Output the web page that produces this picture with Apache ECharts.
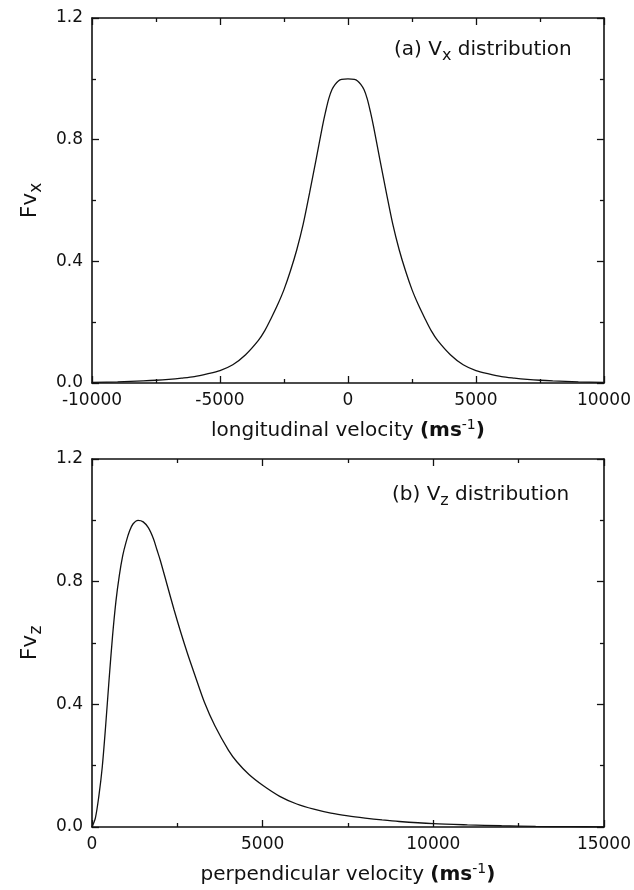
<!DOCTYPE html>
<html>
<head>
<meta charset="utf-8">
<script src="https://cdn.jsdelivr.net/npm/echarts@6/dist/echarts.min.js"></script>
<style>
html,body{margin:0;padding:0;background:#fff;}
#c{width:634px;height:890px;}
</style>
</head>
<body>
<div id="c"></div>
<script>
// Panel (a): longitudinal velocity distribution
var velX = [-10000,-9000,-8000,-7500,-7000,-6500,-6000,-5500,-5000,-4500,-4000,-3500,-3250,-3000,-2750,-2500,-2250,-2000,-1750,-1500,-1250,-1000,-875,-750,-625,-500,-375,-250,0,250,375,500,625,750,875,1000,1250,1500,1750,2000,2250,2500,2750,3000,3250,3500,4000,4500,5000,5500,6000,6500,7000,7500,8000,9000,10000];
var fvX = [0.002,0.004,0.007,0.009,0.012,0.016,0.021,0.030,0.041,0.060,0.093,0.140,0.172,0.213,0.257,0.307,0.368,0.438,0.522,0.625,0.733,0.843,0.892,0.935,0.965,0.982,0.993,0.998,1.0,0.998,0.993,0.982,0.965,0.935,0.892,0.843,0.733,0.625,0.522,0.438,0.368,0.307,0.257,0.213,0.172,0.140,0.093,0.060,0.041,0.030,0.021,0.016,0.012,0.009,0.007,0.004,0.002];

// Panel (b): perpendicular velocity distribution
var velZ = [0,100,200,300,400,500,600,700,800,900,1000,1100,1200,1350,1500,1650,1800,1900,2000,2200,2400,2600,2800,3000,3300,3600,4000,4250,4600,5000,5500,6000,6500,7000,7500,8000,8500,9000,10000,11000,12000,13000,14000,15000];
var fvZ = [0,0.03,0.10,0.195,0.33,0.48,0.62,0.735,0.82,0.885,0.93,0.965,0.988,1.0,0.995,0.976,0.94,0.905,0.87,0.79,0.71,0.635,0.565,0.50,0.405,0.33,0.25,0.212,0.171,0.136,0.100,0.075,0.058,0.045,0.036,0.029,0.023,0.018,0.011,0.007,0.004,0.002,0.001,0.0005];

var xTicksA = [-10000, 10000, 5000];
var xTicksB = [0, 15000, 5000];
var yTicks = [0, 1.2, 0.4];

var FONT = 'DejaVu Sans';
function pairs(xs, ys){ return xs.map(function(x,i){ return [x, ys[i]]; }); }

var nameRich = {
  n: {fontSize: 20, fontFamily: FONT, color: '#111'},
  b: {fontSize: 20, fontFamily: FONT, fontWeight: 'bold', color: '#111'},
  s: {fontSize: 14, fontFamily: FONT, color: '#111', padding: [0,0,12,0]}
};
var yRich = {
  n: {fontSize: 22, fontFamily: FONT, color: '#111'},
  s: {fontSize: 17, fontFamily: FONT, color: '#111', padding: [12,0,0,0]}
};

function xAx(grid, pos, t, name, showLabel){
  return {
    type: 'value', gridIndex: grid, position: pos,
    min: t[0], max: t[1], interval: t[2],
    axisLine: {show: true, onZero: false, lineStyle: {color: '#111', width: 1.6}},
    axisTick: {show: true, inside: true, length: 7, lineStyle: {color: '#111', width: 1.3}},
    minorTick: {show: true, splitNumber: 2, length: 4, lineStyle: {color: '#111', width: 1.3}},
    splitLine: {show: false},
    axisLabel: {show: showLabel, fontFamily: FONT, fontSize: 17, color: '#111', margin: 9,
      formatter: function(v){ return String(v); }},
    name: showLabel ? name : '', nameLocation: 'middle', nameGap: 35,
    nameTextStyle: {rich: nameRich}
  };
}
function yAx(grid, pos, name, showLabel){
  return {
    type: 'value', gridIndex: grid, position: pos,
    min: yTicks[0], max: yTicks[1], interval: yTicks[2],
    axisLine: {show: true, onZero: false, lineStyle: {color: '#111', width: 1.6}},
    axisTick: {show: true, inside: true, length: 7, lineStyle: {color: '#111', width: 1.3}},
    minorTick: {show: true, splitNumber: 2, length: 4, lineStyle: {color: '#111', width: 1.3}},
    splitLine: {show: false},
    axisLabel: {show: showLabel, fontFamily: FONT, fontSize: 17, color: '#111', margin: 9,
      formatter: function(v){ return v.toFixed(1); }},
    name: showLabel ? name : '', nameLocation: 'middle', nameGap: 42,
    nameTextStyle: {rich: yRich}
  };
}

var chart = echarts.init(document.getElementById('c'), null, {renderer: 'canvas'});
chart.setOption({
  animation: false,
  backgroundColor: '#fff',
  grid: [
    {left: 92, right: 30, top: 18, height: 365},
    {left: 92, right: 30, top: 459, height: 368}
  ],
  xAxis: [
    xAx(0, 'bottom', xTicksA, '{n|longitudinal velocity }{b|(ms}{s|-1}{b|)}', true),
    xAx(0, 'top', xTicksA, '', false),
    xAx(1, 'bottom', xTicksB, '{n|perpendicular velocity }{b|(ms}{s|-1}{b|)}', true),
    xAx(1, 'top', xTicksB, '', false)
  ],
  yAxis: [
    yAx(0, 'left', '{n|Fv}{s|x}', true),
    yAx(0, 'right', '', false),
    yAx(1, 'left', '{n|Fv}{s|z}', true),
    yAx(1, 'right', '', false)
  ],
  graphic: [
    {type: 'text', left: 394, top: 40, style: {
      text: '{n|(a) V}{s|x}{n| distribution}',
      rich: {n: {fontSize: 20, fontFamily: FONT, fill: '#111'}, s: {fontSize: 16, fontFamily: FONT, fill: '#111', padding: [12,0,0,0]}}
    }},
    {type: 'text', left: 392, top: 485, style: {
      text: '{n|(b) V}{s|z}{n| distribution}',
      rich: {n: {fontSize: 20, fontFamily: FONT, fill: '#111'}, s: {fontSize: 16, fontFamily: FONT, fill: '#111', padding: [12,0,0,0]}}
    }}
  ],
  series: [
    {type: 'line', xAxisIndex: 0, yAxisIndex: 0, data: pairs(velX, fvX), showSymbol: false, symbol: 'none',
      smooth: 0.3, lineStyle: {color: '#111', width: 1.3}},
    {type: 'line', xAxisIndex: 2, yAxisIndex: 2, data: pairs(velZ, fvZ), showSymbol: false, symbol: 'none',
      smooth: 0.3, lineStyle: {color: '#111', width: 1.3}}
  ]
});
</script>
</body>
</html>
